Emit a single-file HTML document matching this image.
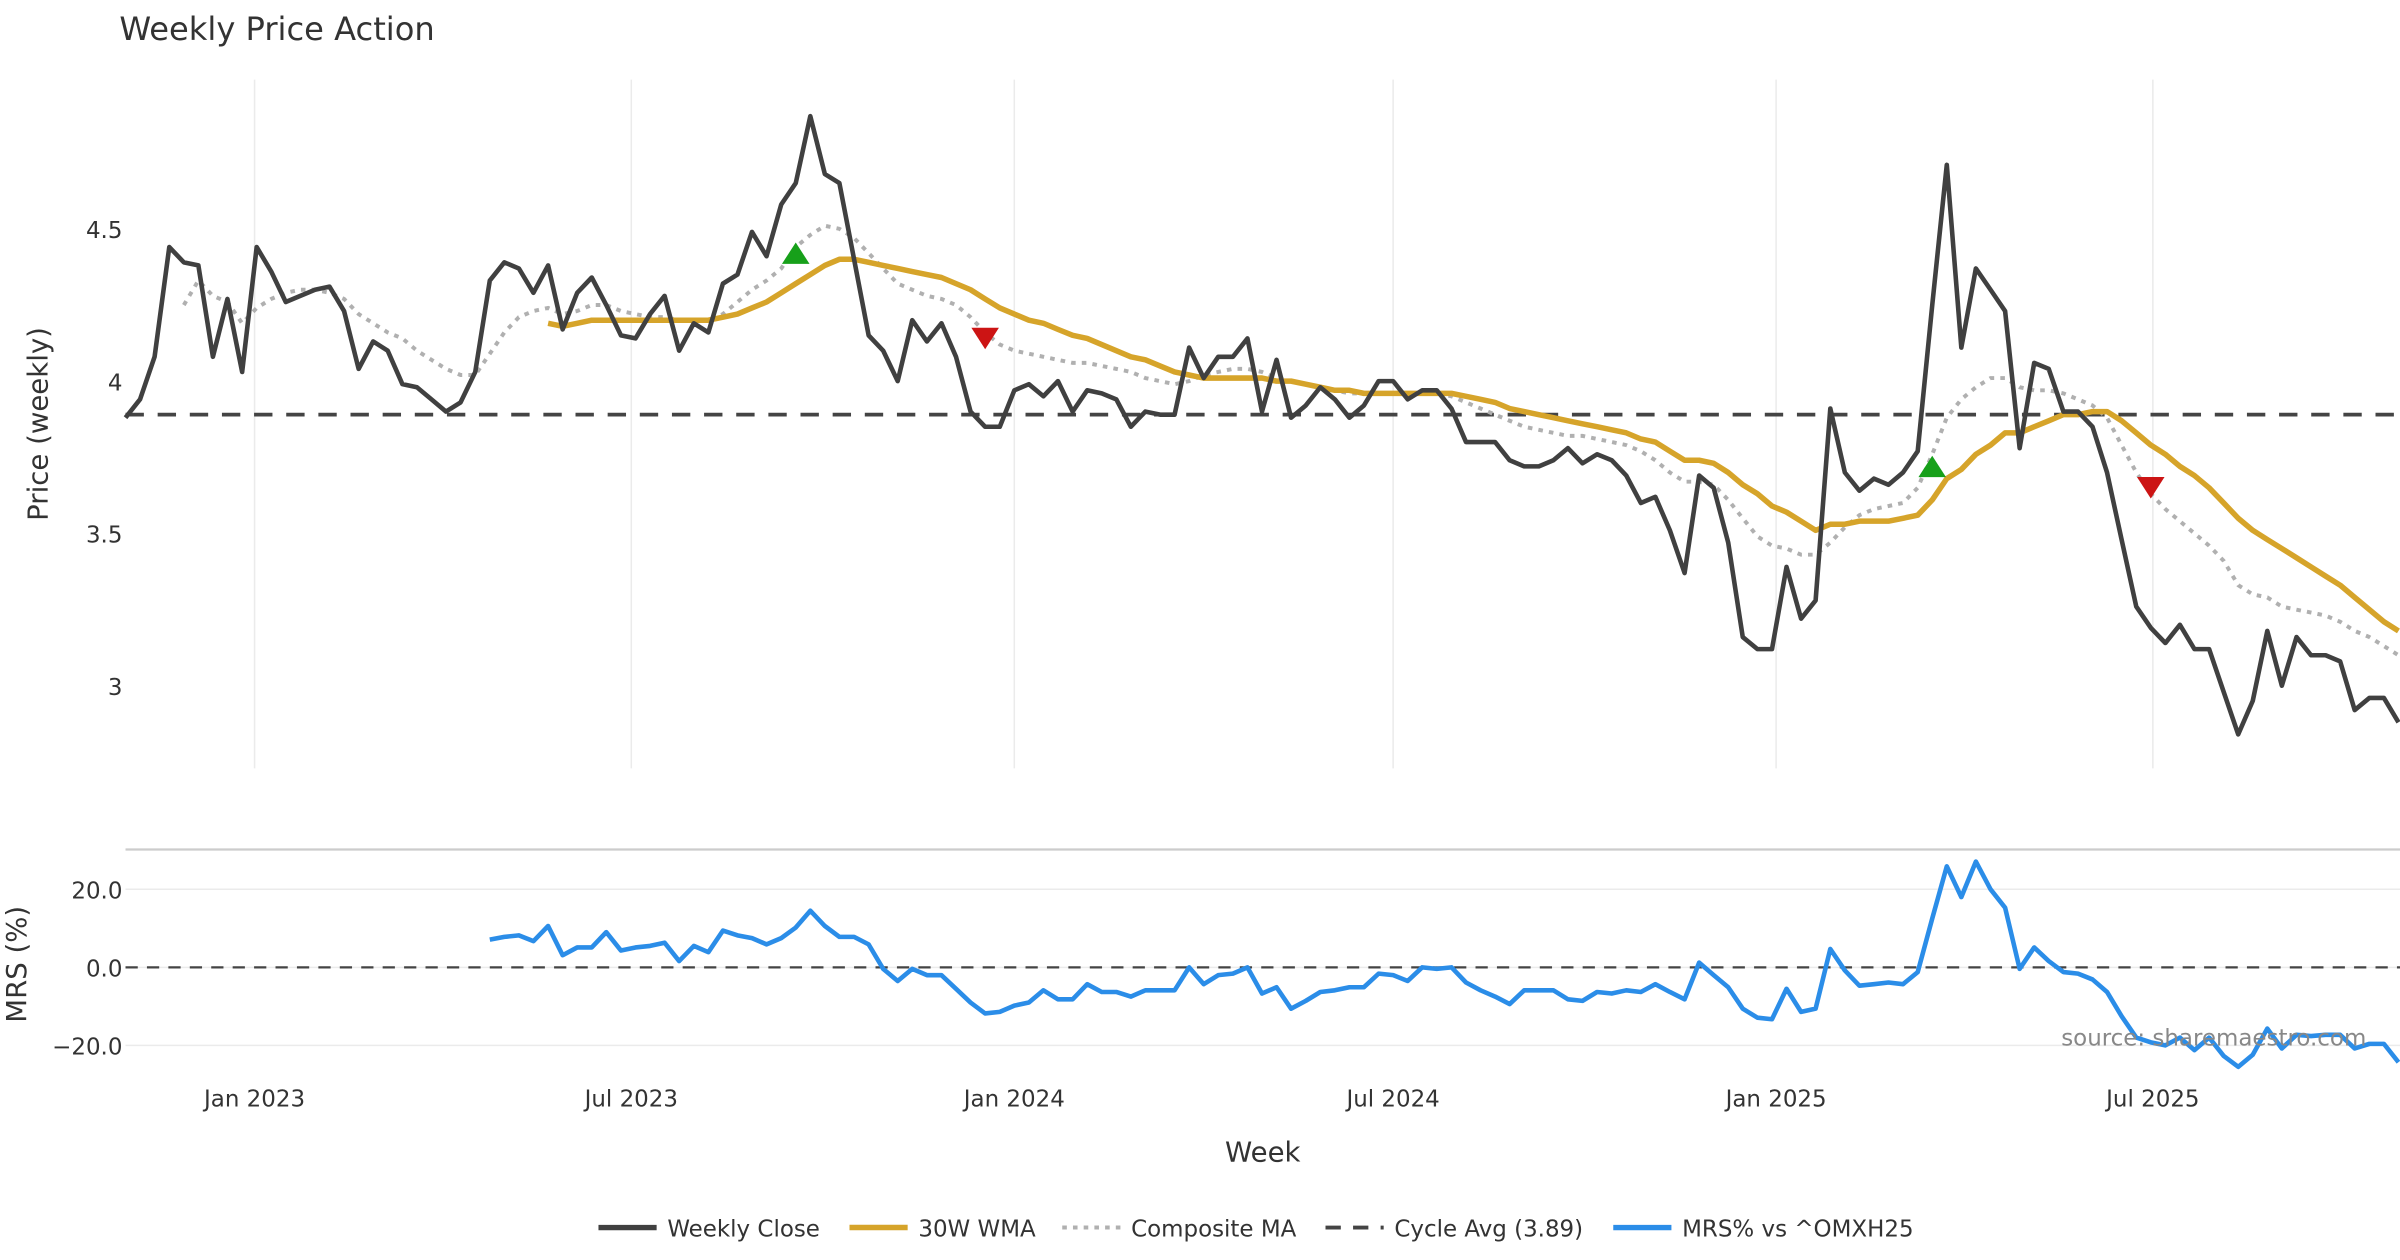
<!DOCTYPE html>
<html><head><meta charset="utf-8"><style>
html,body{margin:0;padding:0;background:#fff}
svg{display:block;font-family:"DejaVu Sans","Liberation Sans",sans-serif}
</style></head><body>
<svg id="chart" width="2400" height="1260" viewBox="0 0 1568 823.2" xmlns="http://www.w3.org/2000/svg">
<rect width="1568" height="823.2" fill="#fff"/>
<text x="78" y="26" font-size="21" fill="#333">Weekly Price Action</text>
<g id="grid"></g>
<g id="marks"></g>
<text transform="translate(31,277) rotate(-90)" text-anchor="middle" font-size="18" fill="#333">Price (weekly)</text>
<text transform="translate(17,630) rotate(-90)" text-anchor="middle" font-size="18" fill="#333">MRS (%)</text>
<text x="825" y="759" text-anchor="middle" font-size="18" fill="#333">Week</text>
<text x="1546" y="683" text-anchor="end" font-size="15" fill="#888">source: sharemaestro.com</text>
<g id="legend"></g>
</svg>
<script>
const closeVals=[3.88,3.94,4.08,4.44,4.39,4.38,4.08,4.27,4.03,4.44,4.36,4.26,4.28,4.30,4.31,4.23,4.04,4.13,4.10,3.99,3.98,3.94,3.90,3.93,4.03,4.33,4.39,4.37,4.29,4.38,4.17,4.29,4.34,4.25,4.15,4.14,4.22,4.28,4.10,4.19,4.16,4.32,4.35,4.49,4.41,4.58,4.65,4.87,4.68,4.65,4.40,4.15,4.10,4.00,4.20,4.13,4.19,4.08,3.90,3.85,3.85,3.97,3.99,3.95,4.00,3.90,3.97,3.96,3.94,3.85,3.90,3.89,3.89,4.11,4.01,4.08,4.08,4.14,3.90,4.07,3.88,3.92,3.98,3.94,3.88,3.92,4.00,4.00,3.94,3.97,3.97,3.91,3.80,3.80,3.80,3.74,3.72,3.72,3.74,3.78,3.73,3.76,3.74,3.69,3.60,3.62,3.51,3.37,3.69,3.65,3.47,3.16,3.12,3.12,3.39,3.22,3.28,3.91,3.70,3.64,3.68,3.66,3.70,3.77,4.25,4.71,4.11,4.37,4.30,4.23,3.78,4.06,4.04,3.90,3.90,3.85,3.70,3.48,3.26,3.19,3.14,3.20,3.12,3.12,2.98,2.84,2.95,3.18,3.00,3.16,3.10,3.10,3.08,2.92,2.96,2.96,2.88];
const wmaStart=29;
const wmaVals=[4.19,4.18,4.19,4.20,4.20,4.20,4.20,4.20,4.20,4.20,4.20,4.20,4.21,4.22,4.24,4.26,4.29,4.32,4.35,4.38,4.40,4.40,4.39,4.38,4.37,4.36,4.35,4.34,4.32,4.30,4.27,4.24,4.22,4.20,4.19,4.17,4.15,4.14,4.12,4.10,4.08,4.07,4.05,4.03,4.02,4.01,4.01,4.01,4.01,4.01,4.00,4.00,3.99,3.98,3.97,3.97,3.96,3.96,3.96,3.96,3.96,3.96,3.96,3.95,3.94,3.93,3.91,3.90,3.89,3.88,3.87,3.86,3.85,3.84,3.83,3.81,3.80,3.77,3.74,3.74,3.73,3.70,3.66,3.63,3.59,3.57,3.54,3.51,3.53,3.53,3.54,3.54,3.54,3.55,3.56,3.61,3.68,3.71,3.76,3.79,3.83,3.83,3.85,3.87,3.89,3.89,3.90,3.90,3.87,3.83,3.79,3.76,3.72,3.69,3.65,3.60,3.55,3.51,3.48,3.45,3.42,3.39,3.36,3.33,3.29,3.25,3.21,3.18];
const compStart=4;
const compVals=[4.25,4.33,4.28,4.26,4.19,4.24,4.27,4.29,4.30,4.30,4.29,4.27,4.22,4.19,4.16,4.14,4.10,4.07,4.04,4.02,4.02,4.09,4.16,4.21,4.23,4.24,4.22,4.23,4.25,4.25,4.23,4.22,4.21,4.21,4.20,4.20,4.20,4.22,4.26,4.30,4.33,4.37,4.44,4.48,4.51,4.50,4.47,4.42,4.37,4.32,4.30,4.28,4.27,4.25,4.21,4.16,4.12,4.10,4.09,4.08,4.07,4.06,4.06,4.05,4.04,4.03,4.01,4.00,3.99,4.00,4.02,4.03,4.04,4.04,4.03,4.01,4.00,3.99,3.98,3.97,3.96,3.96,3.96,3.96,3.96,3.96,3.96,3.95,3.93,3.91,3.89,3.87,3.85,3.84,3.83,3.82,3.82,3.81,3.80,3.79,3.77,3.74,3.70,3.67,3.67,3.66,3.61,3.55,3.49,3.46,3.45,3.43,3.43,3.47,3.52,3.56,3.58,3.59,3.60,3.65,3.76,3.88,3.94,3.98,4.01,4.01,3.98,3.97,3.97,3.96,3.94,3.92,3.88,3.79,3.70,3.63,3.58,3.54,3.50,3.46,3.41,3.33,3.30,3.29,3.26,3.25,3.24,3.23,3.21,3.18,3.16,3.13,3.10];
const mrsStart=25;
const mrsVals=[7.1,7.8,8.2,6.7,10.6,3.1,5.1,5.1,9.0,4.3,5.1,5.5,6.3,1.6,5.5,3.9,9.4,8.2,7.5,5.9,7.5,10.2,14.5,10.6,7.8,7.8,5.9,-0.4,-3.5,-0.4,-2.0,-2.0,-5.5,-9.0,-11.8,-11.4,-9.8,-9.0,-5.9,-8.2,-8.2,-4.3,-6.3,-6.3,-7.5,-5.9,-5.9,-5.9,0,-4.3,-2.0,-1.6,0,-6.7,-5.1,-10.6,-8.6,-6.3,-5.9,-5.1,-5.1,-1.6,-2.0,-3.5,0,-0.4,0,-3.9,-5.9,-7.5,-9.4,-5.9,-5.9,-5.9,-8.2,-8.6,-6.3,-6.7,-5.9,-6.3,-4.3,-6.3,-8.2,1.2,-2.0,-5.1,-10.6,-12.9,-13.3,-5.5,-11.4,-10.6,4.7,-0.8,-4.7,-4.3,-3.9,-4.3,-1.2,12.5,25.9,18.0,27.1,20.0,15.3,-0.4,5.1,1.6,-1.2,-1.6,-3.1,-6.3,-12.5,-18.0,-19.2,-20.0,-18.0,-21.2,-18.0,-22.7,-25.5,-22.4,-15.7,-20.8,-17.3,-17.6,-17.3,-17.3,-20.8,-19.6,-19.6,-24.3];
const cycleAvg=3.89;
const buyIdx=[46,124];
const buyVals=[4.42,3.72];
const sellIdx=[59,139];
const sellVals=[4.14,3.65];
const priceTicks=[3,3.5,4,4.5];
const priceTickLabels=["3","3.5","4","4.5"];
const mrsTicks=[-20,0,20];
const mrsTickLabels=["−20.0","0.0","20.0"];
const xTickDates=["2023-01-01","2023-07-01","2024-01-01","2024-07-01","2025-01-01","2025-07-01"];
const xTickLabels=["Jan 2023","Jul 2023","Jan 2024","Jul 2024","Jan 2025","Jul 2025"];
const startDate="2022-10-31";

const NS="http://www.w3.org/2000/svg";
const X0=82,X1=1567,N=closeVals.length;
const step=(X1-X0)/(N-1);
function xi(i){return X0+i*step;}
function xd(d){const days=(Date.parse(d)-Date.parse(startDate))/86400000;return X0+days/7*step;}
function yp(v){return 249-(v-4)*199;}
function ym(v){return 632-v*2.55;}
function mk(tag,attrs,parent){const e=document.createElementNS(NS,tag);for(const k in attrs)e.setAttribute(k,attrs[k]);parent.appendChild(e);return e;}
const grid=document.getElementById('grid'),marks=document.getElementById('marks'),legend=document.getElementById('legend');

xTickDates.forEach((d,k)=>{
  const x=xd(d);
  const g=mk('line',{x1:x,x2:x,y1:52,y2:502,stroke:'#ebebeb','stroke-width':1},grid);
  
  
  const t=mk('text',{x:x,y:723,'text-anchor':'middle','font-size':15,fill:'#333'},grid);
  t.textContent=xTickLabels[k];
  
  
});
priceTicks.forEach((v,k)=>{
  const t=mk('text',{x:80,y:yp(v)+6,'text-anchor':'end','font-size':15,fill:'#333'},grid);
  t.textContent=priceTickLabels[k];
  
  
});
const sep=mk('line',{x1:82,x2:1568,y1:555,y2:555,stroke:'#ccc','stroke-width':1.5},grid);


mrsTicks.forEach((v,k)=>{
  const gl=mk('line',{x1:82,x2:1568,y1:ym(v),y2:ym(v),stroke:'#ebebeb','stroke-width':1},grid);
  
  
  const t=mk('text',{x:80,y:ym(v)+6,'text-anchor':'end','font-size':15,fill:'#333'},grid);
  t.textContent=mrsTickLabels[k];
  
  
});

function pts(vals,start,yf){return vals.map((v,i)=>xi(i+start).toFixed(1)+','+yf(v).toFixed(1)).join(' ');}

const cyc=mk('line',{x1:X0,x2:1568,y1:yp(cycleAvg),y2:yp(cycleAvg),stroke:'#444','stroke-width':2.5,'stroke-dasharray':'12,9'},marks);


const comp=mk('polyline',{points:pts(compVals,compStart,yp),fill:'none',stroke:'#b0b0b0','stroke-width':2.6,'stroke-dasharray':'3,4'},marks);


const wma=mk('polyline',{points:pts(wmaVals,wmaStart,yp),fill:'none',stroke:'#d6a42a','stroke-width':3.6,'stroke-linejoin':'round'},marks);


const cl=mk('polyline',{points:pts(closeVals,0,yp),fill:'none',stroke:'#404040','stroke-width':3,'stroke-linejoin':'round'},marks);


const zl=mk('line',{x1:X0,x2:1568,y1:ym(0),y2:ym(0),stroke:'#444','stroke-width':1.5,'stroke-dasharray':'8,6'},marks);


const mrs=mk('polyline',{points:pts(mrsVals,mrsStart,ym),fill:'none',stroke:'#2b8de8','stroke-width':3,'stroke-linejoin':'round'},marks);


buyIdx.forEach((idx,k)=>{
  const x=xi(idx),y=yp(buyVals[k]);
  const p=mk('polygon',{points:`${x-9},${y+7} ${x+9},${y+7} ${x},${y-7}`,fill:'#17a01a'},marks);
  
  
});
sellIdx.forEach((idx,k)=>{
  const x=xi(idx),y=yp(sellVals[k]);
  const p=mk('polygon',{points:`${x-9},${y-7} ${x+9},${y-7} ${x},${y+7}`,fill:'#cc1414'},marks);
  
  
});

const items=[
 {x:391,label:"Weekly Close",stroke:'#404040',w:3.5,dash:''},
 {x:555,label:"30W WMA",stroke:'#d6a42a',w:3.6,dash:''},
 {x:694,label:"Composite MA",stroke:'#b0b0b0',w:2.6,dash:'3,4'},
 {x:866,label:"Cycle Avg (3.89)",stroke:'#444',w:2.5,dash:'10,8'},
 {x:1054,label:"MRS% vs ^OMXH25",stroke:'#2b8de8',w:3.5,dash:''}];
items.forEach(it=>{
  const l=mk('line',{x1:it.x,x2:it.x+38,y1:802,y2:802,stroke:it.stroke,'stroke-width':it.w,'stroke-dasharray':it.dash},legend);
  
  
  const t=mk('text',{x:it.x+45,y:808,'font-size':15,fill:'#333'},legend);
  t.textContent=it.label;
  
  
});
</script>
</body></html>
